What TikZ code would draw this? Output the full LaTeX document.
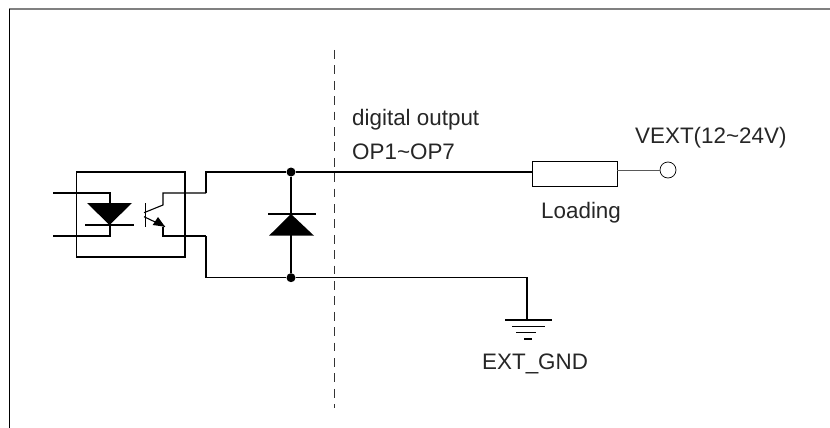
\documentclass[tikz,border=0pt]{standalone}
\usepackage{fontspec}
\setmainfont{Liberation Sans}
\usetikzlibrary{positioning,calc}
\begin{document}
\begin{tikzpicture}[x=1pt,y=-1pt,
  junction/.style={circle,fill=black,inner sep=0pt,minimum size=9pt},
  loadbox/.style={draw,line width=0.9pt,inner sep=0pt,minimum width=85pt,minimum height=25pt},
  terminal/.style={circle,draw,line width=0.7pt,inner sep=0pt,minimum size=16pt},
  caption/.style={font=\fontsize{22.4}{26}\selectfont,inner sep=0pt,anchor=base west,text=black!85},
  wire/.style={line width=1.1pt}]
\useasboundingbox (0,0) rectangle (830,428);

% Frame
\draw[gray,line width=1.4pt] (9,9) -- (830,9);
\draw[line width=0.9pt] (9.3,9) -- (9.3,428);

% Separation line
\draw[black!80,line width=0.8pt,dash pattern=on 8.7pt off 6.7pt] (334.4,50) -- (334.4,408);

% Optocoupler
\coordinate (inA) at (53,193);
\coordinate (inB) at (53,236);
\coordinate (ledA) at (110,193);
\coordinate (ledB) at (110,236);
\coordinate (colA) at (163,193);
\coordinate (emiA) at (163,236);
\coordinate (outA) at (206,193);
\coordinate (outB) at (206,236);
\draw[wire] (76.7,172) rectangle (185,257);
\draw[wire] (inA) -- (ledA) -- (ledB) -- (inB);
\fill (87,203) -- (132,203) -- (109.5,225) -- cycle;
\draw[wire] (85,225) -- (134,225);

% Transistor
\draw[wire] (145.3,203) -- (145.3,227);
\draw[wire] (144,212.7) -- (163,205) -- (colA) -- (outA);
\draw[wire] (144,216.7) -- (165,226.7);
\draw[wire] (163,227) -- (emiA) -- (outB);
\fill (165,226.7) -- (152.7,225) -- (158,217) -- cycle;

% Output rails
\node[junction] (dotA) at (291,172) {};
\node[junction] (dotB) at (291,277.7) {};
\node[loadbox] (load) at (574.5,174.2) {};
\node[terminal] (vext) at (668,170) {};
\coordinate (gnd) at (527,277.7);
\coordinate (gndBar) at (527,320);
\draw[wire] (outA) -- (206,172) -- (dotA) -- (load.west |- dotA);
\draw[wire] (outB) -- (206,277.7) -- (dotB) -- (gnd) -- (gndBar);
\draw[gray!70!black,line width=0.9pt] (load.east |- vext) -- (vext);

% Flyback diode
\draw[wire] (dotA) -- (dotB);
\fill (269,235.7) -- (314,235.7) -- (291,214) -- cycle;
\draw[wire] (268,214) -- (316,214);

% Ground symbol
\draw[wire] (505,320) -- (552,320);
\draw[wire] (512,326.7) -- (545,326.7);
\draw[wire] (516,332.7) -- (536,332.7);
\draw[wire] (524,339) -- (532,339);

% Labels
\node[caption] (digital) at (352,125.7) {digital output};
\node[caption] (opsig) at (352,159) {OP1\textasciitilde OP7};
\node[caption] (vextlabel) at (635,143) {VEXT(12\textasciitilde 24V)};
\node[caption] (loading) at (541,218) {Loading};
\node[caption] (gndlabel) at (482,369) {EXT\_GND};
\end{tikzpicture}
\end{document}
